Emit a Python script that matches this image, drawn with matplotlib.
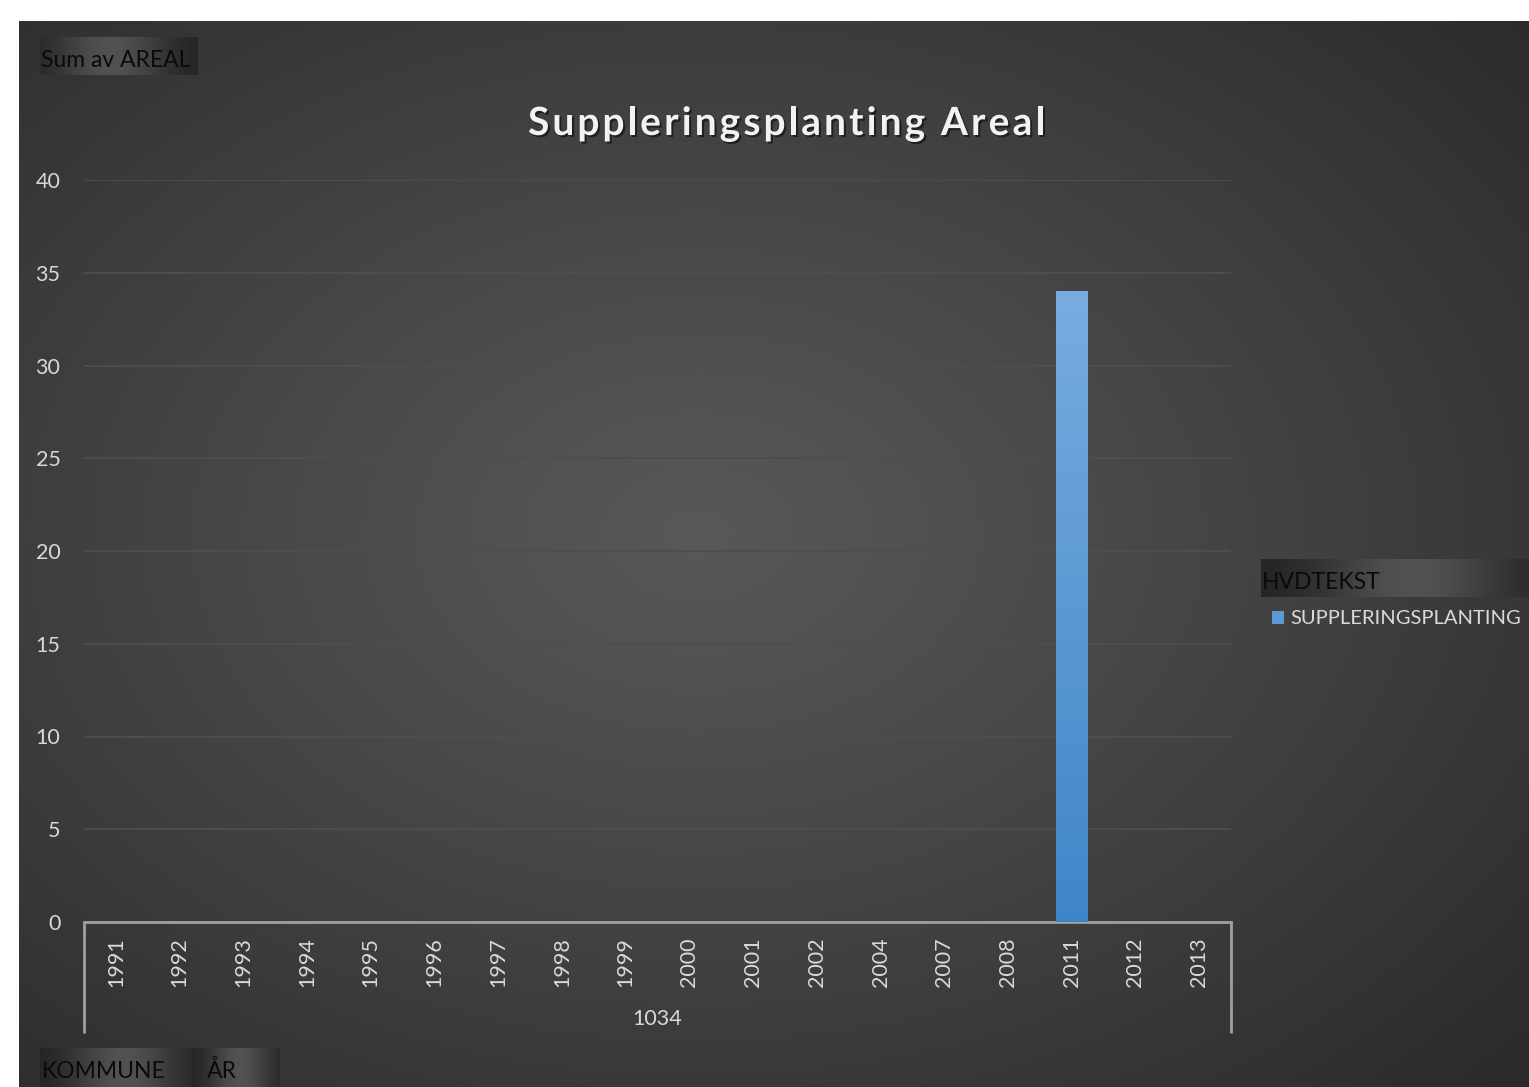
import numpy as np
import matplotlib
matplotlib.use('Agg')
import matplotlib.pyplot as plt
from matplotlib.patches import Patch
import matplotlib.patheffects as pe

plt.rcParams['font.family'] = ['Lato', 'DejaVu Sans']

# data
years = ['1991', '1992', '1993', '1994', '1995', '1996', '1997', '1998', '1999',
         '2000', '2001', '2002', '2004', '2007', '2008', '2011', '2012', '2013']
areal = [0, 0, 0, 0, 0, 0, 0, 0, 0, 0, 0, 0, 0, 0, 0, 34, 0, 0]
kommune = '1034'
serie = 'SUPPLERINGSPLANTING'
title = 'Suppleringsplanting Areal'

W, H = 1529, 1087
fig = plt.figure(figsize=(W / 100, H / 100), dpi=100)
fig.patch.set_facecolor('white')


def px(x0, y0, x1, y1):
    # pixel box (top-left origin) -> figure rect
    return [x0 / W, 1 - y1 / H, (x1 - x0) / W, (y1 - y0) / H]


# dark radial background
bg = fig.add_axes(px(19, 21, W, H), zorder=-10)
yy, xx = np.mgrid[0:1:300j, 0:1:400j]
r = np.sqrt(((xx - 0.45) / 0.75) ** 2 + ((yy - 0.48) / 0.75) ** 2)
r = np.clip(r, 0, 1)
shade = 0.345 - (0.345 - 0.165) * r ** 1.1
bg.imshow(np.dstack([shade] * 3), aspect='auto', extent=(0, 1, 0, 1), interpolation='bicubic')
bg.set_axis_off()


def button(x0, y0, x1, y1, text, tx, ty, size=16.5, peak=0.5):
    a = fig.add_axes(px(x0, y0, x1, y1), zorder=5)
    t = np.linspace(0, 1, 200)
    g = 0.13 + (0.32 - 0.13) * np.exp(-((t - peak) / 0.36) ** 2)
    a.imshow(np.dstack([np.tile(g, (10, 1))] * 3), aspect='auto', extent=(0, 1, 0, 1))
    a.set_axis_off()
    fig.text(tx / W, 1 - ty / H, text, fontsize=size, color='#0a0a0a',
             va='baseline', ha='left', zorder=6)


button(40, 37, 198, 75, 'Sum av AREAL', 41, 67, peak=0.45)
button(40, 1048, 192, 1090, 'KOMMUNE', 42, 1078, peak=0.55)
button(192, 1048, 280, 1090, 'ÅR', 207, 1078, peak=0.55)
button(1261, 559, 1529, 597, 'HVDTEKST', 1262, 589, peak=0.57)

# main axes
ax = fig.add_axes(px(84, 180, 1231, 922))
ax.set_facecolor('none')
x = np.arange(len(years))
bars = ax.bar(x, areal, width=0.5, color='none', zorder=3)
grad = np.linspace(0, 1, 256).reshape(-1, 1)
top_c = np.array([0x78, 0xac, 0xdf]) / 255
bot_c = np.array([0x3f, 0x86, 0xc8]) / 255
img = top_c * (1 - grad[..., None]) + bot_c * grad[..., None]
for b in bars:
    if b.get_height() <= 0:
        continue
    bx, by, bw, bh = b.get_x(), b.get_y(), b.get_width(), b.get_height()
    im = ax.imshow(img, extent=(bx, bx + bw, by, by + bh), aspect='auto', zorder=3)
    im.set_clip_path(b)

ax.set_xlim(-0.5, len(years) - 0.5)
ax.set_ylim(0, 40)
ax.set_yticks(np.arange(0, 41, 5))
ax.set_xticks(x)
ax.set_xticklabels(years, rotation=90, va='top')
ax.tick_params(axis='y', length=0, pad=17, labelsize=15.5, labelcolor='#d9d9d9')
ax.tick_params(axis='x', length=0, pad=11, labelsize=15.5, labelcolor='#d9d9d9')
ax.grid(axis='y', color='#4e4e4e', lw=1.3, zorder=0)
ax.set_axisbelow(True)
for s in ['top', 'right', 'left']:
    ax.spines[s].set_visible(False)
ax.spines['bottom'].set_color('#a0a0a0')
ax.spines['bottom'].set_linewidth(2)

# group separators below axis
drop = (1033 - 922) / (922 - 180)
for xe in [0, 1]:
    ax.plot([xe, xe], [0, -drop], transform=ax.transAxes, color='#a0a0a0', lw=2,
            clip_on=False, solid_capstyle='butt')
ax.text(0.5, -(1019 - 922) / (922 - 180), kommune, transform=ax.transAxes,
        ha='center', va='center', fontsize=15.5, color='#d9d9d9')

# title with letter spacing, laid out char by char
fig.canvas.draw()
renderer = fig.canvas.get_renderer()
tkw = dict(fontsize=28, fontweight='bold', color='#f2f2f2', va='baseline', ha='left',
           path_effects=[pe.withSimplePatchShadow(offset=(1.5, -1.5), shadow_rgbFace='black', alpha=0.5)])
spacing = 3.1
widths = []
for ch in title:
    tmp = fig.text(0, 0, ch if ch != ' ' else 'a a', **tkw)
    w = tmp.get_window_extent(renderer).width
    if ch == ' ':
        w -= 2 * fig.text(0, 0, 'a', **tkw).get_window_extent(renderer).width
        fig.texts.pop()
    fig.texts.pop()
    widths.append(w)
total = sum(widths) + spacing * (len(title) - 1)
cx = 786.5 - total / 2
for ch, w in zip(title, widths):
    if ch != ' ':
        fig.text(cx / W, 1 - 135 / H, ch, **tkw)
    cx += w + spacing

fig.legend(handles=[Patch(facecolor='#5b9bd5', edgecolor='none')], labels=[serie],
           loc='center left', bbox_to_anchor=(1262 / W, 1 - 619 / H), frameon=False,
           handlelength=0.6, handleheight=0.6, handletextpad=0.3, borderpad=0,
           labelcolor='#d9d9d9', fontsize=14.5)

fig.savefig('out.png', dpi=100)
